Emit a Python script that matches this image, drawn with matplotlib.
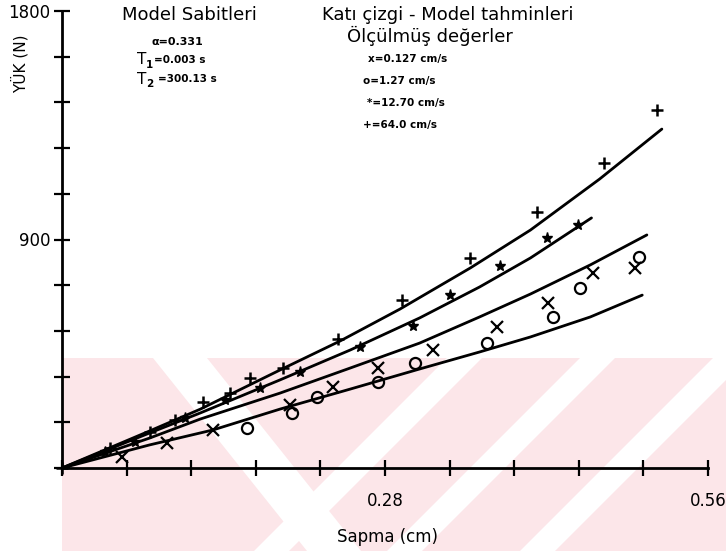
import numpy as np
import matplotlib.pyplot as plt
from matplotlib.patches import Polygon

# model curves (solid lines), x = deflection [cm], y = load [N]
c1_x = [0, 0.076, 0.120, 0.189, 0.241, 0.293, 0.354, 0.406, 0.466, 0.520]
c1_y = [0, 146, 232, 386, 500, 626, 788, 937, 1138, 1335]
c2_x = [0, 0.076, 0.120, 0.189, 0.250, 0.310, 0.362, 0.406, 0.459]
c2_y = [0, 138, 217, 347, 465, 591, 713, 827, 985]
c3_x = [0, 0.076, 0.120, 0.189, 0.250, 0.310, 0.362, 0.406, 0.458, 0.507]
c3_y = [0, 118, 193, 295, 394, 492, 595, 685, 800, 918]
c4_x = [0, 0.076, 0.131, 0.189, 0.250, 0.310, 0.362, 0.406, 0.458, 0.503]
c4_y = [0, 91, 150, 232, 311, 390, 457, 516, 595, 681]

# measured values
plus_x = [0, 0.042, 0.076, 0.098, 0.122, 0.146, 0.163, 0.192, 0.239, 0.295, 0.354, 0.412, 0.470, 0.516]
plus_y = [0, 79, 142, 189, 260, 295, 354, 394, 508, 662, 827, 1008, 1201, 1410]
star_x = [0.037, 0.063, 0.107, 0.141, 0.172, 0.206, 0.258, 0.304, 0.336, 0.380, 0.420, 0.447]
star_y = [63, 102, 197, 268, 315, 378, 477, 559, 681, 796, 906, 957]
cross_x = [0.052, 0.091, 0.131, 0.198, 0.235, 0.274, 0.322, 0.377, 0.421, 0.460, 0.497]
cross_y = [43, 98, 150, 248, 319, 394, 465, 555, 650, 768, 788]
circ_x = [0.160, 0.199, 0.221, 0.274, 0.306, 0.368, 0.426, 0.449, 0.500]
circ_y = [158, 217, 280, 339, 414, 492, 595, 709, 831]

W, H = 726, 551
fig = plt.figure(figsize=(W / 100, H / 100), dpi=100)

# faint pink watermark in the lower part of the scan (figure pixels)
def px_poly(pts, color):
    fig.patches.append(Polygon([(x / W, 1 - y / H) for x, y in pts], closed=True,
                               transform=fig.transFigure, facecolor=color,
                               edgecolor='none', zorder=0))

pink = '#fce6e9'
px_poly([(62, 358), (726, 358), (726, 551), (62, 551)], pink)
px_poly([(153, 358), (207, 358), (361, 551), (307, 551)], 'white')
for left in [447, 580, 713]:
    px_poly([(left, 358), (left + 35, 358), (left + 35 - 193, 551), (left - 193, 551)], 'white')

ax = fig.add_axes([62 / W, 1 - 468 / H, (708 - 62) / W, (468 - 11) / H])
ax.set_zorder(2)
ax.patch.set_alpha(0)

for cx, cy in [(c1_x, c1_y), (c2_x, c2_y), (c3_x, c3_y), (c4_x, c4_y)]:
    ax.plot(cx, cy, color='black', lw=2, solid_capstyle='round')

ax.plot(plus_x, plus_y, '+', color='black', ms=9, mew=1.8, clip_on=False)
ax.plot(star_x, star_y, '*', color='black', ms=8, clip_on=False)
ax.plot(cross_x, cross_y, 'x', color='black', ms=9, mew=1.6, clip_on=False)
ax.plot(circ_x, circ_y, 'o', mfc='none', mec='black', ms=8, mew=1.6, clip_on=False)

ax.set_xlim(0, 0.56)
ax.set_ylim(0, 1800)
for s in ['top', 'right']:
    ax.spines[s].set_visible(False)
for s in ['left', 'bottom']:
    ax.spines[s].set_linewidth(2)

xt = np.linspace(0, 0.56, 11)
yt = np.linspace(0, 1800, 11)
ax.set_xticks(xt)
ax.set_xticklabels([''] * 5 + ['0.28'] + [''] * 4 + ['0.56'])
ax.set_yticks(yt)
ax.set_yticklabels([''] * 5 + ['900'] + [''] * 4 + ['1800'])
ax.tick_params(direction='inout', length=11, width=1.6, labelsize=12)
ax.tick_params(axis='y', pad=3)
ax.tick_params(axis='x', pad=12)

def ftext(x, y, s, **kw):
    fig.text(x / W, 1 - y / H, s, **kw)

ftext(20, 64, 'YÜK (N)', rotation=90, ha='center', va='center', fontsize=11)
ftext(388, 537, 'Sapma (cm)', ha='center', va='center', fontsize=12)

ftext(189, 15, 'Model Sabitleri', ha='center', va='center', fontsize=13)
ftext(448, 15, 'Katı çizgi - Model tahminleri', ha='center', va='center', fontsize=13)
ftext(430, 36, 'Ölçülmüş değerler', ha='center', va='center', fontsize=13)

ftext(152, 42, 'α=0.331', va='center', fontsize=8, fontweight='bold')
ftext(137, 60, 'T', va='center', fontsize=11)
ftext(146, 65, '1', va='center', fontsize=7.5, fontweight='bold')
ftext(154, 60, '=0.003 s', va='center', fontsize=7.5, fontweight='bold')
ftext(137, 79, 'T', va='center', fontsize=11)
ftext(146, 84, '2', va='center', fontsize=7.5, fontweight='bold')
ftext(158, 79, '=300.13 s', va='center', fontsize=7.5, fontweight='bold')

ftext(368, 59, 'x=0.127 cm/s', va='center', fontsize=7.5, fontweight='bold')
ftext(363, 81, 'o=1.27 cm/s', va='center', fontsize=7.5, fontweight='bold')
ftext(367, 103, '*=12.70 cm/s', va='center', fontsize=7.5, fontweight='bold')
ftext(363, 125, '+=64.0 cm/s', va='center', fontsize=7.5, fontweight='bold')

fig.savefig('out.png', dpi=100)
